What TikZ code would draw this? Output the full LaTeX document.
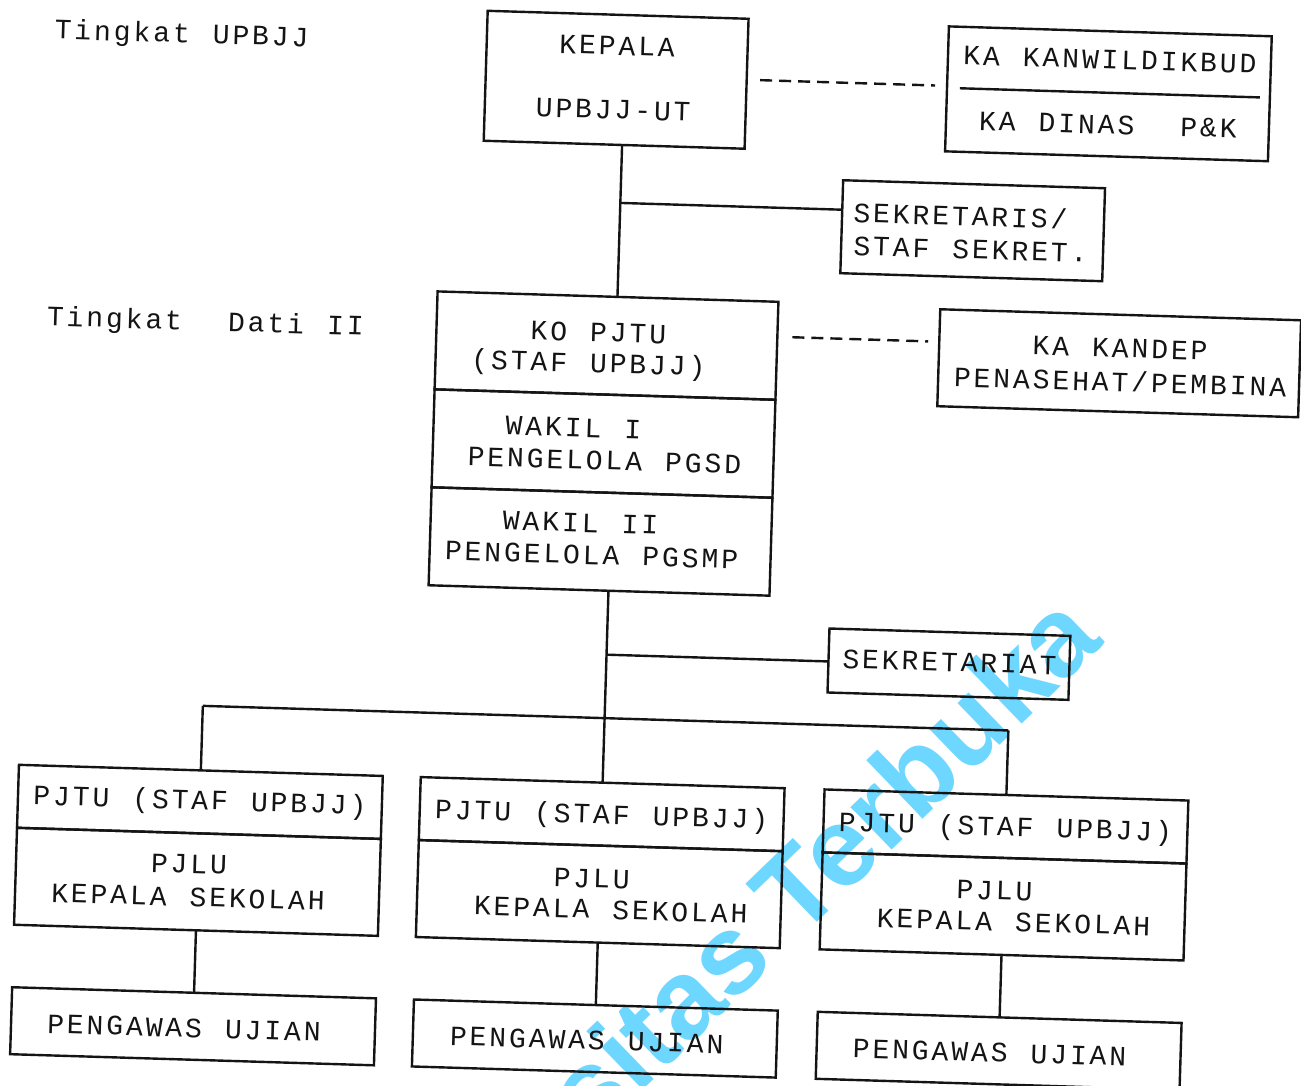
\documentclass[tikz,border=0pt]{standalone}
\usepackage{fontspec}
\setmainfont{Liberation Sans}
\newfontfamily\chartfont{Liberation Mono}[LetterSpace=10.4,WordSpace=1.17]
\newfontfamily\wmfont{Liberation Sans}
\usetikzlibrary{calc}
\definecolor{ink}{RGB}{20,20,20}
\definecolor{wmblue}{RGB}{110,215,255}
\begin{document}
\begin{tikzpicture}[x=0.5pt,y=-0.5pt,
  bx/.style={draw=ink,line width=1.2pt,inner sep=0pt,outer sep=0pt},
  txt/.style={font=\chartfont\fontsize{14pt}{18pt}\selectfont,text=ink,inner sep=0pt,text height=9.2pt,text depth=0pt},
  ln/.style={draw=ink,line width=1.2pt},
  dsh/.style={draw=ink,line width=1.2pt,dash pattern=on 6pt off 3.5pt},
  wmark/.style={font=\wmfont\bfseries\fontsize{56pt}{66pt}\selectfont,text=wmblue,inner sep=0pt}]
\path[use as bounding box,fill=white] (0,0) rectangle (1301,1086);
\clip (0,0) rectangle (1301,1086);
% watermark
\node[wmark,rotate=44,anchor=base east] (wm) at (1106,643) {Universitas Terbuka};
\begin{scope}[rotate around={-1.75:(650,543)},transform shape]
% level labels
\node[txt,anchor=west] (lvl1) at (39,48) {Tingkat UPBJJ};
\node[txt,anchor=west] (lvl2) at (40,335) {Tingkat\ \ Dati II};
% top level
\node[bx,minimum width=130.5pt,minimum height=65pt] (kepala) at (602,81) {};
\node[txt] (t1) at (602,47) {KEPALA};
\node[txt] (t2) at (600,111) {UPBJJ-UT};
\node[bx,minimum width=161.5pt,minimum height=62.5pt] (kanwil) at (1094.5,80) {};
\coordinate (kwL) at (946,79);
\coordinate (kwR) at (1246,79);
\draw[ln] (kwL) -- (kwR);
\node[txt] (t3) at (1095,46) {KA KANWILDIKBUD};
\node[txt] (t4) at (1095,111) {KA DINAS\ \ P\&K};
\coordinate (d1a) at (746,77);
\coordinate (d1b) at (921,77);
\draw[dsh] (d1a) -- (d1b);
\node[bx,minimum width=131pt,minimum height=46.5pt] (sekr) at (963,221) {};
\node[txt,anchor=west] (t5) at (843,207) {SEKRETARIS/};
\node[txt,anchor=west] (t6) at (844,240) {STAF SEKRET.};
% Dati II level
\node[bx,minimum width=170.5pt,minimum height=49pt] (ko1) at (600.5,347) {};
\node[bx,minimum width=170.5pt,minimum height=49pt] (ko2) at (600.5,445) {};
\node[bx,minimum width=170.5pt,minimum height=49pt] (ko3) at (600.5,543) {};
\node[txt] (t7) at (592,334) {KO PJTU};
\node[txt] (t8) at (583,365) {(STAF UPBJJ)};
\node[txt] (t9) at (570,430) {WAKIL I};
\node[txt] (t10) at (602,462) {PENGELOLA PGSD};
\node[txt] (t11) at (580,525) {WAKIL II};
\node[txt] (t12) at (592,557) {PENGELOLA PGSMP};
\node[bx,minimum width=180.5pt,minimum height=48.5pt] (kandep) at (1113.5,349) {};
\node[txt] (t13) at (1114,334) {KA KANDEP};
\node[txt] (t14) at (1115,368) {PENASEHAT/PEMBINA};
\coordinate (d2a) at (786,333);
\coordinate (d2b) at (922,333);
\draw[dsh] (d2a) -- (d2b);
\node[bx,minimum width=120.5pt,minimum height=32pt] (sekt) at (952.5,655) {};
\node[txt] (t15) at (953,653) {SEKRETARIAT};
% connectors upper part
\coordinate (kS) at (610,146);
\coordinate (koN) at (610,298);
\coordinate (jA) at (610,204);
\coordinate (sA) at (832,204);
\draw[ln] (kS) -- (koN);
\draw[ln] (jA) -- (sA);
\coordinate (koS) at (610,592);
\coordinate (jB) at (610,656);
\coordinate (sB) at (832.3,656);
\coordinate (barL) at (208,719.5);
\coordinate (barR) at (1014,719.5);
% lower boxes
\foreach \n/\cx in {l/208,m/610,r/1014}{
  \node[bx,minimum width=182pt,minimum height=31.5pt] (p\n1) at (\cx,815.5) {};
  \node[bx,minimum width=182pt,minimum height=48.5pt] (p\n2) at (\cx,895.5) {};
  \node[bx,minimum width=182pt,minimum height=33.5pt] (g\n) at (\cx,1040) {};
  \draw[ln] (p\n2.south) -- (g\n.north);
}
\draw[ln] (koS) -- (pm1.north);
\draw[ln] (jB) -- (sB);
\draw[ln] (barL) -- (barR);
\draw[ln] (barL) -- (pl1.north);
\draw[ln] (barR) -- (pr1.north);
\node[txt] (tl1) at (208,814) {PJTU (STAF UPBJJ)};
\node[txt] (tl2) at (199,878) {PJLU};
\node[txt] (tl3) at (199,911) {KEPALA SEKOLAH};
\node[txt] (tm1) at (610,816) {PJTU (STAF UPBJJ)};
\node[txt] (tm2) at (602,880) {PJLU};
\node[txt] (tm3) at (622,911) {KEPALA SEKOLAH};
\node[txt] (tr1) at (1014,816) {PJTU (STAF UPBJJ)};
\node[txt] (tr2) at (1005,880) {PJLU};
\node[txt] (tr3) at (1025,911) {KEPALA SEKOLAH};
\node[txt] (gl1) at (199,1042) {PENGAWAS UJIAN};
\node[txt] (gm1) at (602,1042) {PENGAWAS UJIAN};
\node[txt] (gr1) at (1005,1042) {PENGAWAS UJIAN};
\end{scope}
\end{tikzpicture}
\end{document}
